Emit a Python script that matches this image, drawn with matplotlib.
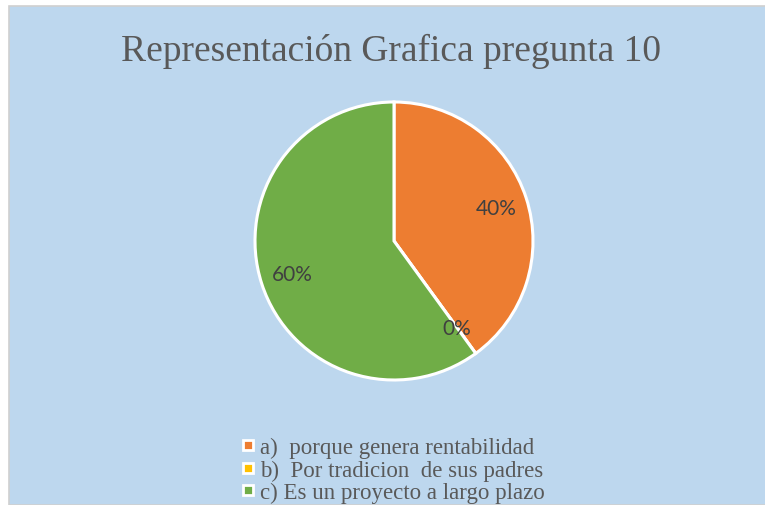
import matplotlib.pyplot as plt
from matplotlib.patches import Rectangle

# Data
categories = ['a)  porque genera rentabilidad',
              'b)  Por tradicion  de sus padres',
              'c) Es un proyecto a largo plazo']
values = [40, 0, 60]
colors = ['#ED7D31', '#FFC000', '#70AD47']

fig = plt.figure(figsize=(7.65, 5.06), dpi=100)
fig.patch.set_facecolor('white')

# chart area background with thin gray frame
fig.patches.append(Rectangle((9 / 765, 0), 1, 1 - 7 / 506, transform=fig.transFigure,
                             facecolor='#BDD7EE', edgecolor='#D0D0D0', linewidth=1.2,
                             zorder=-1))

# pie axes
cx, cy, r = 394 / 765, 1 - 242 / 506, 139
ax = fig.add_axes([cx - r / 765, cy - r / 506, 2 * r / 765, 2 * r / 506])
ax.set_facecolor('none')
wedges, texts, autotexts = ax.pie(values, colors=colors, startangle=90, counterclock=False,
                                  autopct=lambda p: f'{p:.0f}%', pctdistance=0.77,
                                  wedgeprops=dict(edgecolor='white', linewidth=2.2),
                                  textprops=dict(fontsize=15, color='#404040', family='Lato'))
ax.set_xlim(-1, 1)
ax.set_ylim(-1, 1)
ax.set_aspect('equal')

fig.text(391 / 765, 1 - 51 / 506, 'Representación Grafica pregunta 10',
         ha='center', va='center', fontsize=27, color='#595959', family='Liberation Serif')

handles = [plt.Line2D([], [], marker='s', linestyle='none', markersize=7.5,
                      markerfacecolor=c, markeredgecolor='white', markeredgewidth=2)
           for c in colors]
leg = fig.legend(handles, categories, loc='center', bbox_to_anchor=(393 / 765, 1 - 471 / 506),
                 frameon=False, prop=dict(family='Liberation Serif', size=16.5),
                 labelcolor='#595959', handlelength=0.6, handletextpad=0.25,
                 labelspacing=0.05, borderpad=0)

plt.savefig('out.png', dpi=100)
